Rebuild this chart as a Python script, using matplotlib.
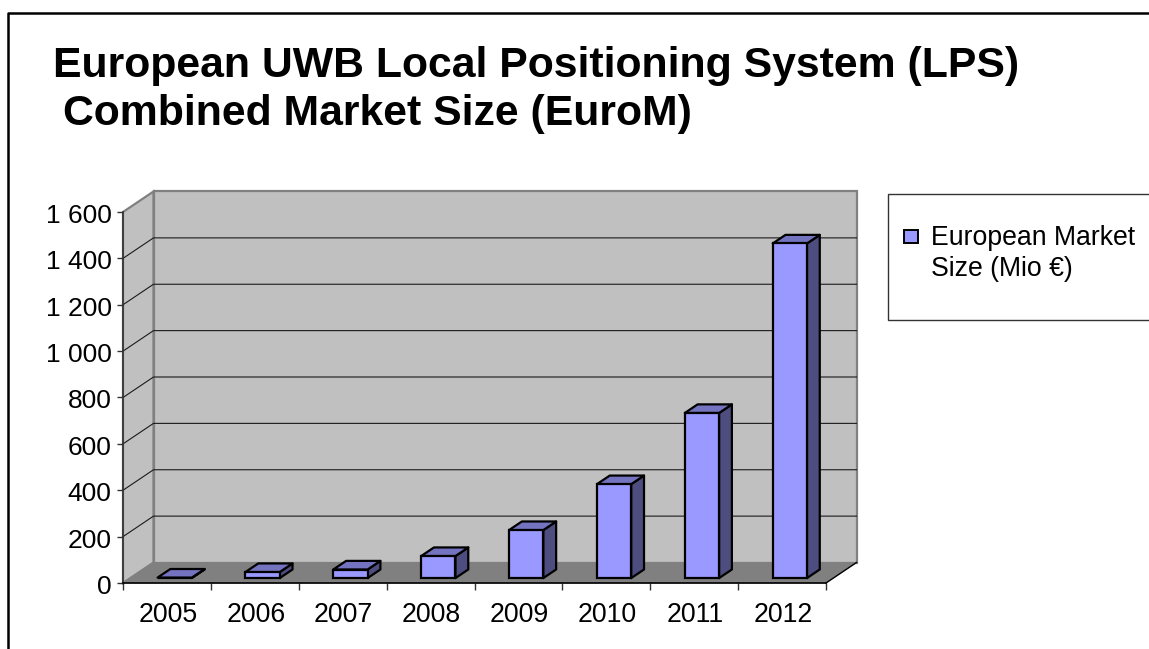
import matplotlib
matplotlib.use("Agg")
import matplotlib.pyplot as plt
from matplotlib.lines import Line2D
from matplotlib.patches import Polygon, Rectangle
from matplotlib.transforms import ScaledTranslation

plt.rcParams['font.family'] = ['Liberation Sans', 'DejaVu Sans']

years = ['2005', '2006', '2007', '2008', '2009', '2010', '2011', '2012']
market_size = [2, 26, 37, 95, 207, 405, 712, 1443]
y_ticks = [0, 200, 400, 600, 800, 1000, 1200, 1400, 1600]
y_labels = ['0', '200', '400', '600', '800', '1 000', '1 200', '1 400', '1 600']
title_lines = ['European UWB Local Positioning System (LPS)', 'Combined Market Size (EuroM)']
series_name = 'European Market\nSize (Mio €)'

W, H = 1149, 649
fig = plt.figure(figsize=(W / 100, H / 100), dpi=100, facecolor='white')


def fx(px):
    return px / W


def fy(py):
    return 1 - py / H


# front plane of the 3-D box
L, R, T, B = 123, 826, 212, 583
ax = fig.add_axes([fx(L), fy(B), fx(R) - fx(L), fy(T) - fy(B)])
ax.set_xlim(0, len(years))
ax.set_ylim(0, 1600)
ax.patch.set_visible(False)

dx = 30.5 / (R - L) * len(years)   # depth offset in x data units
dy = 20.5 / (B - T) * 1600          # depth offset in y data units
ymax = 1600
n = len(years)

WALL, FLOOR, EDGE = '#C0C0C0', '#808080', '#808080'
FRONT, TOP, SIDE = '#9999FF', '#7373BF', '#4D4D80'

ax.add_patch(Polygon([(dx, dy), (n + dx, dy), (n + dx, ymax + dy), (dx, ymax + dy)],
                     fc=WALL, ec=EDGE, lw=1.6, zorder=1, clip_on=False))
ax.add_patch(Polygon([(0, 0), (dx, dy), (dx, ymax + dy), (0, ymax)],
                     fc=WALL, ec=EDGE, lw=1.6, zorder=1, clip_on=False))
ax.add_patch(Polygon([(0, 0), (n, 0), (n + dx, dy), (dx, dy)],
                     fc=FLOOR, ec=FLOOR, lw=0.5, zorder=1.5, clip_on=False))

for v in y_ticks[1:-1]:
    ax.plot([0, dx, n + dx], [v, v + dy, v + dy], color='#1a1a1a', lw=0.8,
            zorder=2, clip_on=False)
ax.plot([n, n + dx], [0, dy], color='black', lw=1.0, zorder=2, clip_on=False)

# bars
bw = 0.39
d0, d1 = 0.24, 0.66
for i, v in enumerate(market_size):
    x0 = i + 0.5 + d0 * dx - bw / 2 + 0.005
    x1 = x0 + bw
    y0 = d0 * dy
    ddx, ddy = (d1 - d0) * dx, (d1 - d0) * dy
    ax.add_patch(Polygon([(x1, y0), (x1 + ddx, y0 + ddy), (x1 + ddx, y0 + ddy + v), (x1, y0 + v)],
                         fc=SIDE, ec='black', lw=1.6, zorder=3 + i, joinstyle='round', clip_on=False))
    ax.add_patch(Polygon([(x0, y0 + v), (x1, y0 + v), (x1 + ddx, y0 + v + ddy), (x0 + ddx, y0 + v + ddy)],
                         fc=TOP, ec='black', lw=1.6, zorder=3 + i, joinstyle='round', clip_on=False))
    ax.bar(x0, v, width=bw, bottom=y0, align='edge', color=FRONT, edgecolor='black',
           linewidth=1.6, zorder=3 + i, clip_on=False)

# axes
for s in ('top', 'right'):
    ax.spines[s].set_visible(False)
ax.spines['left'].set_color('#333333')
ax.spines['left'].set_linewidth(1.2)
ax.spines['bottom'].set_color('black')
ax.spines['bottom'].set_linewidth(1.2)
ax.spines['left'].set_zorder(20)
ax.spines['bottom'].set_zorder(20)

ax.set_yticks(y_ticks)
ax.set_yticklabels(y_labels)
ax.set_xticks(range(n + 1))
ax.set_xticklabels([])
ax.set_xticks([i + 0.5 for i in range(n)], minor=True)
ax.set_xticklabels(years, minor=True)
ax.tick_params(axis='x', which='major', length=5, width=1, color='#333333')
ax.tick_params(axis='x', which='minor', length=0, pad=13.5, labelsize=19.2)
ax.tick_params(axis='y', length=4, width=1, color='#333333', pad=4.2, labelsize=19)
shift = ScaledTranslation(0, -1.5 / 100, fig.dpi_scale_trans)
for lab in ax.get_yticklabels():
    lab.set_transform(lab.get_transform() + shift)
shift_x = ScaledTranslation(1 / 100, 0, fig.dpi_scale_trans)
for lab in ax.get_xticklabels(minor=True):
    lab.set_transform(lab.get_transform() + shift_x)

# outer frame
fig.add_artist(Line2D([fx(8), fx(8), fx(W)], [fy(H), fy(13), fy(13)], color='black', lw=1.8))

# title
fig.text(fx(53), fy(76.5), title_lines[0], fontsize=30.8, fontweight='bold', ha='left', va='baseline')
fig.text(fx(63), fy(125), title_lines[1], fontsize=30.8, fontweight='bold', ha='left', va='baseline')

# legend
fig.add_artist(Rectangle((fx(888), fy(320)), fx(W + 5) - fx(888), fy(194) - fy(320),
                         fc='white', ec='#333333', lw=1, transform=fig.transFigure))
fig.add_artist(Rectangle((fx(904), fy(243.5)), fx(14), fy(230) - fy(243.5),
                         fc=FRONT, ec='black', lw=1.4, transform=fig.transFigure))
fig.text(fx(931), fy(276), series_name, fontsize=19.2, ha='left', va='baseline',
         linespacing=1.27)

fig.savefig('out.png', dpi=100)
